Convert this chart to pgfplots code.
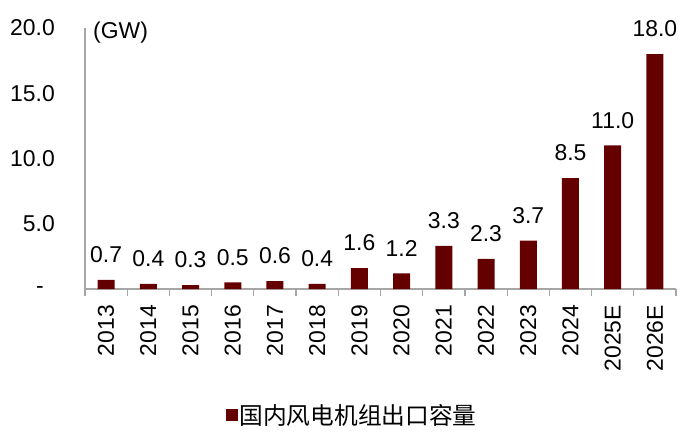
\documentclass[border=0pt]{standalone}
\usepackage{pgfplots}
\pgfplotsset{compat=1.18}
\usepackage{fontspec}
\setmainfont{Liberation Sans}
\newfontfamily\cjk{Noto Sans CJK SC}
\definecolor{barred}{HTML}{650000}
\definecolor{axisgray}{HTML}{A6A6A6}
\begin{document}
\begin{tikzpicture}
\useasboundingbox (0,0) rectangle (689bp,445bp);
\begin{axis}[
    at={(85bp,156bp)}, anchor=south west,
    scale only axis,
    width=591bp, height=261bp,
    clip=false,
    ybar, bar width=17bp,
    xmin=-0.5, xmax=13.5,
    ymin=0, ymax=20,
    axis x line=bottom, axis y line=left,
    axis line style={draw=axisgray, line width=1.2bp, -},
    font=\fontsize{23}{27}\selectfont,
    xtick={0,...,13},
    xticklabels={2013,2014,2015,2016,2017,2018,2019,2020,2021,2022,2023,2024,2025E,2026E},
    minor xtick={-0.5,0.5,...,13.5},
    major tick length=0pt,
    minor tick length=7bp,
    tick align=outside,
    minor tick style={draw=axisgray, line width=1.2bp},
    xticklabel style={rotate=90, anchor=east, inner sep=0pt},
    xticklabel shift=16bp,
    ytick={5,10,15,20},
    yticklabels={5.0,10.0,15.0,20.0},
    yticklabel style={anchor=east, inner sep=0pt},
    yticklabel shift=30bp,
    /pgf/number format/.cd, fixed, fixed zerofill, precision=1, assume math mode=true, /pgfplots/.cd,
    nodes near coords,
    every node near coord/.append style={anchor=south, inner sep=0pt, yshift=17bp, black},
    legend style={draw=none, fill=none, at={(axis description cs:0.452,-0.483)}, anchor=center,
        font=\fontsize{23.8}{27}\selectfont\cjk, inner sep=0pt},
    legend image code/.code={\fill[barred] (0bp,-6bp) rectangle (12bp,6bp);},
]
\addplot[fill=barred, draw=none] coordinates {
    (0,0.7) (1,0.4) (2,0.3) (3,0.5) (4,0.6) (5,0.4) (6,1.6)
    (7,1.2) (8,3.3) (9,2.3) (10,3.7) (11,8.5) (12,11.0) (13,18.0)
};
\addlegendentry{国内风电机组出口容量}
\node[anchor=west, inner sep=0pt, xshift=8bp, yshift=-5bp] at (rel axis cs:0,1) {(GW)};
\node[anchor=center, inner sep=0pt, xshift=-45bp, yshift=-1bp] at (rel axis cs:0,0) {-};
\end{axis}
\end{tikzpicture}
\end{document}
